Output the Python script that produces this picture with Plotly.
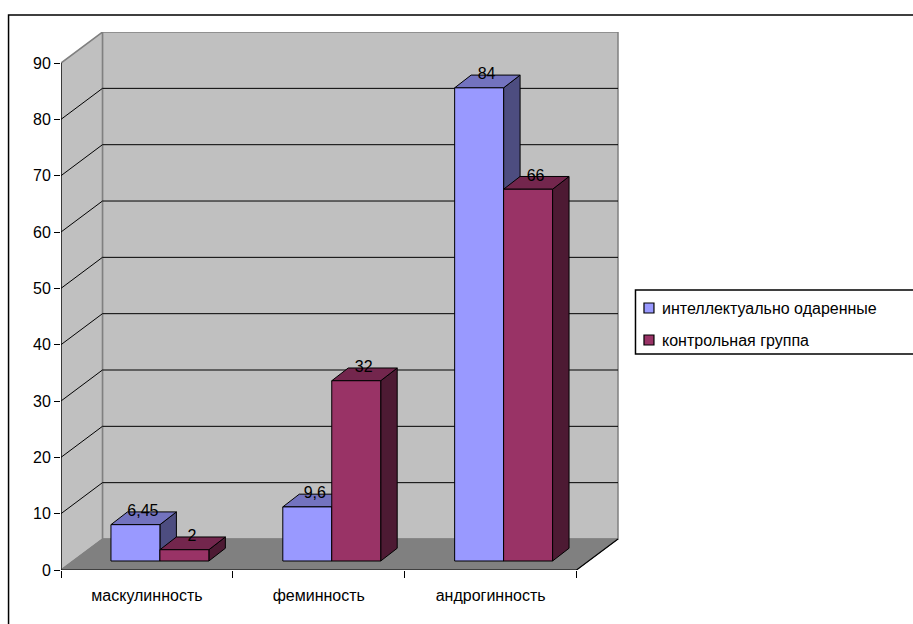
import plotly.graph_objects as go

categories = ["маскулинность", "феминность", "андрогинность"]
series_a_name = "интеллектуально одаренные"
series_b_name = "контрольная группа"
series_a = [6.45, 9.6, 84]
series_b = [2, 32, 66]
labels_a = ["6,45", "9,6", "84"]
labels_b = ["2", "32", "66"]
y_ticks = [0, 10, 20, 30, 40, 50, 60, 70, 80, 90]

W, H = 913, 624
PX_X = 172.0      # pixels per category
PX_Y = 5.633      # pixels per value unit
AX_L, AX_R, AX_T, AX_B = 61, 619.5, 32, 570
FONT = "Liberation Sans, Arial, sans-serif"
FS = 16

WALL_DX = 41.5 / PX_X
WALL_DY = 31.0 / PX_Y
BAR_BASE = 9.0 / PX_Y
BAR_W = 49.0 / PX_X
PAIR_SHIFT = 13.0 / PX_X
BAR_DX = 16.5 / PX_X
BAR_DY = 12.75 / PX_Y
LBL_DX = 7.5 / PX_X
LBL_DY = 12.5 / PX_Y
N = len(categories)

C_WALL, C_FLOOR, C_EDGE = "#C0C0C0", "#808080", "#808080"
STYLE_A = dict(front="#9999FF", side="#4D4D80", top="#7373BF")
STYLE_B = dict(front="#993366", side="#4D1A33", top="#73264D")

fig = go.Figure()


def poly(xs, ys, fill, line="#000000", lw=1.0, z=0):
    fig.add_trace(go.Scatter(
        x=xs + xs[:1], y=ys + ys[:1], mode="lines", fill="toself", fillcolor=fill,
        line=dict(color=line, width=lw), hoverinfo="skip", showlegend=False,
        cliponaxis=False, zorder=z))


def seg(xs, ys, color="#000000", lw=1.0, z=1):
    fig.add_trace(go.Scatter(
        x=xs, y=ys, mode="lines", line=dict(color=color, width=lw),
        hoverinfo="skip", showlegend=False, cliponaxis=False, zorder=z))


top = y_ticks[-1]
# back wall, side wall, floor
poly([WALL_DX, N + WALL_DX, N + WALL_DX, WALL_DX],
     [WALL_DY, WALL_DY, top + WALL_DY, top + WALL_DY], C_WALL, C_EDGE, 1.5, 0)
poly([0, WALL_DX, WALL_DX, 0], [0, WALL_DY, top + WALL_DY, top], C_WALL, C_EDGE, 1.5, 0)
poly([0, N, N + WALL_DX, WALL_DX], [0, 0, WALL_DY, WALL_DY], C_FLOOR, C_FLOOR, 1.0, 0)

# gridlines across the side wall and back wall
for v in y_ticks[1:-1]:
    seg([0, WALL_DX, N + WALL_DX], [v, v + WALL_DY, v + WALL_DY])

# axis lines
seg([0, 0], [0, top], lw=1.2)
seg([0, N, N + WALL_DX], [0, 0, WALL_DY], lw=1.2)


def series(values, labels, name, offset, style, z):
    for i, v in enumerate(values):
        x0 = i + PAIR_SHIFT + 0.5 + offset - BAR_W / 2
        x1 = x0 + BAR_W
        y0, y1 = BAR_BASE, BAR_BASE + v
        poly([x1, x1 + BAR_DX, x1 + BAR_DX, x1],
             [y0, y0 + BAR_DY, y1 + BAR_DY, y1], style["side"], z=z)
        poly([x0, x1, x1 + BAR_DX, x0 + BAR_DX],
             [y1, y1, y1 + BAR_DY, y1 + BAR_DY], style["top"], z=z)
    fig.add_trace(go.Bar(
        x=[i + PAIR_SHIFT + 0.5 + offset for i in range(N)], y=values, base=BAR_BASE,
        width=BAR_W, name=name, marker=dict(color=style["front"], line=dict(color="#000000", width=1)),
        showlegend=False, hoverinfo="skip", zorder=z + 1))
    fig.add_trace(go.Scatter(
        x=[i + PAIR_SHIFT + 0.5 + offset + LBL_DX for i in range(N)],
        y=[BAR_BASE + v + LBL_DY for v in values],
        mode="text", text=labels, textposition="middle center",
        textfont=dict(family=FONT, size=FS, color="#000000"),
        hoverinfo="skip", showlegend=False, cliponaxis=False, zorder=10))


series(series_a, labels_a, series_a_name, -BAR_W / 2, STYLE_A, 2)
series(series_b, labels_b, series_b_name, BAR_W / 2, STYLE_B, 4)


def px(x):
    return (x - AX_L) / (AX_R - AX_L)


def py(y):
    return (AX_B - y) / (AX_B - AX_T)


def rect(x0, y0, x1, y1, fill="rgba(0,0,0,0)", lw=1.5):
    return dict(type="rect", xref="paper", yref="paper", x0=px(x0), x1=px(x1), y0=py(y0), y1=py(y1),
                fillcolor=fill, line=dict(color="#000000", width=lw), layer="above")


shapes = [
    rect(8.5, 15, W + 20, H + 20),                    # outer frame, runs off the page
    rect(636, 290, W + 20, 354),                      # legend box, runs off the page
    rect(644.5, 303, 654.5, 313, STYLE_A["front"], 1.2),
    rect(644.5, 335, 654.5, 345, STYLE_B["front"], 1.2),
]
annotations = [
    dict(xref="paper", yref="paper", x=px(660.5), y=py(yy), text=t, showarrow=False, xanchor="left",
         yanchor="middle", xshift=0, font=dict(family=FONT, size=FS, color="#000000"))
    for t, yy in [(series_a_name, 308), (series_b_name, 340)]
]

fig.update_layout(
    width=W, height=H, autosize=False,
    margin=dict(l=AX_L, r=W - AX_R, t=AX_T, b=H - AX_B, pad=0),
    paper_bgcolor="#FFFFFF", plot_bgcolor="rgba(0,0,0,0)",
    barmode="overlay", showlegend=False,
    font=dict(family=FONT, size=FS, color="#000000"),
    shapes=shapes, annotations=annotations,
    xaxis=dict(
        range=[0, (AX_R - AX_L) / PX_X], showgrid=False, zeroline=False, showline=False,
        tickmode="array", tickvals=[i + 0.5 for i in range(N)], ticktext=categories,
        ticks="", ticklabelstandoff=14, tickfont=dict(family=FONT, size=FS),
        minor=dict(tickmode="array", tickvals=list(range(N + 1)), ticks="outside", ticklen=7,
                   tickcolor="#000000", tickwidth=1.2, showgrid=False),
    ),
    yaxis=dict(
        range=[0, (AX_B - AX_T) / PX_Y], showgrid=False, zeroline=False, showline=False,
        tickmode="array", tickvals=y_ticks, ticks="outside", ticklen=6,
        tickcolor="#000000", tickwidth=1.2, tickfont=dict(family=FONT, size=FS),
    ),
)

fig.write_html("out.html", config=dict(displayModeBar=False),
               post_script="document.body.style.margin='0';document.body.style.overflow='hidden';")
